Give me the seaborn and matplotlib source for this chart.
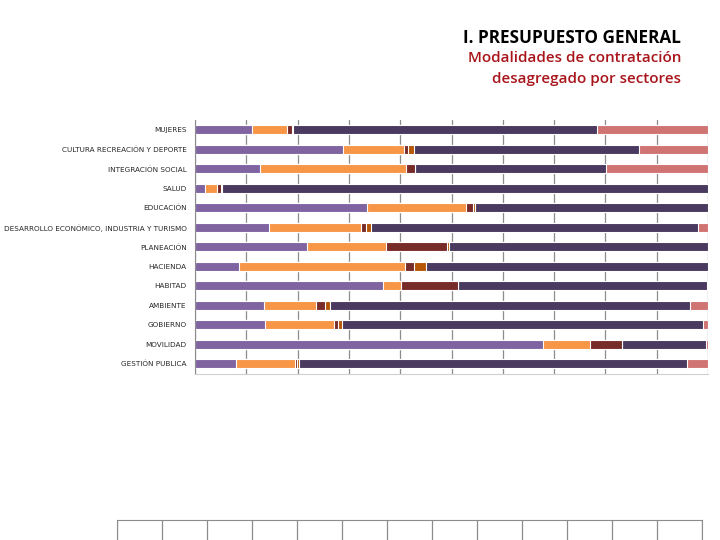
import matplotlib
matplotlib.use("Agg")
import matplotlib.pyplot as plt
import seaborn as sns
import pandas as pd
import numpy as np

# %% data (share of each contracting modality, % per sector)
sectores = ["MUJERES", "CULTURA RECREACIÓN Y DEPORTE", "INTEGRACIÓN SOCIAL", "SALUD",
            "EDUCACIÓN", "DESARROLLO ECONÓMICO, INDUSTRIA Y TURISMO", "PLANEACIÓN",
            "HACIENDA", "HABITAD", "AMBIENTE", "GOBIERNO", "MOVILIDAD", "GESTIÓN PUBLICA"]
mod_1 = [11.1, 28.9, 12.7, 1.9, 33.5, 14.4, 21.9, 8.6, 36.7, 13.5, 13.6, 67.8, 8.0]
mod_2 = [6.8, 11.8, 28.5, 2.4, 19.3, 17.9, 15.4, 32.3, 3.5, 10.1, 13.5, 9.2, 11.4]
mod_3 = [1.0, 0.9, 1.6, 0.7, 1.3, 1.0, 11.9, 1.8, 11.0, 1.8, 0.8, 6.3, 0.5]
mod_4 = [0.3, 1.0, 0.0, 0.3, 0.4, 1.0, 0.4, 2.3, 0.0, 0.9, 0.7, 0.0, 0.4]
mod_5 = [59.2, 43.9, 37.3, 94.7, 45.5, 63.8, 50.4, 55.0, 48.6, 70.2, 70.5, 16.4, 75.7]
mod_6 = [21.6, 13.5, 19.9, 0.0, 0.0, 1.9, 0.0, 0.0, 0.2, 3.5, 0.9, 0.3, 4.0]

colores = ["#8064A2", "#F79646", "#772C2A", "#B65708", "#4A3A5F", "#D07473"]

df = pd.DataFrame({"sector": sectores, "m1": mod_1, "m2": mod_2, "m3": mod_3,
                   "m4": mod_4, "m5": mod_5, "m6": mod_6})
cols = ["m1", "m2", "m3", "m4", "m5", "m6"]
cum = df[cols].cumsum(axis=1)

# %% plot
sns.set_style("white")
plt.rcParams["font.family"] = ["DejaVu Sans"]
fig = plt.figure(figsize=(7.2, 5.4), dpi=100)
ax = fig.add_axes([195 / 720, 1 - 373.5 / 540, 513 / 720, 253.5 / 540])

# stacked bars: draw cumulative totals from the back
for c, col in reversed(list(zip(colores, cols))):
    sns.barplot(ax=ax, x=cum[col], y=df["sector"], orient="h", color=c,
                width=0.45, edgecolor="white", linewidth=0.8, saturation=1)

ax.set_xlim(0, 100)
ax.set_xticks(np.arange(0, 101, 10))
ax.set_xticklabels([])
ax.tick_params(axis="x", length=0)
ax.tick_params(axis="y", length=0, labelsize=5.2, pad=6)
ax.xaxis.grid(True, color="#8c8c8c", linewidth=0.9)
ax.set_axisbelow(True)
ax.set_xlabel("")
ax.set_ylabel("")
for s in ["top", "right"]:
    ax.spines[s].set_visible(False)
ax.spines["left"].set_color("#8c8c8c")
ax.spines["bottom"].set_color("#d0d0d0")
ax.spines["bottom"].set_linewidth(0.8)

# titles
fig.text(681 / 720, 1 - 38 / 540, "I. PRESUPUESTO GENERAL", ha="right", va="center",
         fontsize=12.3, fontweight="bold", family=["Open Sans", "DejaVu Sans"], color="black")
fig.text(681 / 720, 1 - 58 / 540, "Modalidades de contratación", ha="right", va="center",
         fontsize=11, fontweight="semibold", family=["Open Sans", "DejaVu Sans"], color="#A8161C")
fig.text(681 / 720, 1 - 79 / 540, "desagregado por sectores", ha="right", va="center",
         fontsize=11, fontweight="semibold", family=["Open Sans", "DejaVu Sans"], color="#A8161C")

# empty data table at the bottom (cut off)
ax2 = fig.add_axes([117 / 720, -0.02, 585 / 720, 31 / 540])
ax2.set_xlim(0, 13)
ax2.set_xticks(np.arange(0, 14))
ax2.set_xticklabels([])
ax2.set_yticks([])
ax2.tick_params(length=0)
ax2.xaxis.grid(True, color="#8c8c8c", linewidth=0.9)
for s in ["top", "left", "right"]:
    ax2.spines[s].set_color("#8c8c8c")
ax2.spines["bottom"].set_visible(False)

fig.savefig("out.png", dpi=100)
